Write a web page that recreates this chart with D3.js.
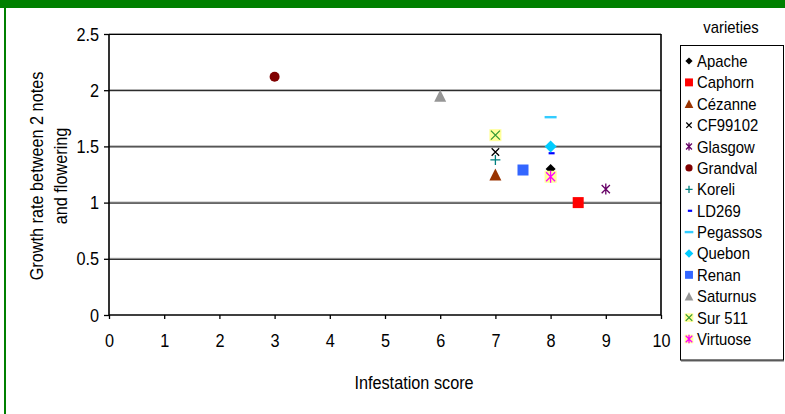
<!DOCTYPE html>
<html>
<head>
<meta charset="utf-8">
<script src="https://cdn.jsdelivr.net/npm/d3@7"></script>
<style>
  html, body { margin: 0; padding: 0; background: #fff; }
  svg { display: block; font-family: "Liberation Sans", Arial, sans-serif; }
</style>
</head>
<body>
<svg id="chart" width="785" height="414"></svg>
<script>
// Varieties, infestation score (x) and growth rate (y)
const varieties = ["Apache", "Caphorn", "Cézanne", "CF99102", "Glasgow", "Grandval", "Koreli",
                   "LD269", "Pegassos", "Quebon", "Renan", "Saturnus", "Sur 511", "Virtuose"];
const infestation = [8, 8.5, 7, 7, 9, 3, 7, 8, 8, 8, 7.5, 6, 7, 8];
const growthRate = [1.30, 1.00, 1.25, 1.45, 1.12, 2.12, 1.38, 1.44, 1.76, 1.50, 1.29, 1.95, 1.60, 1.23];
const xTicks = [0, 1, 2, 3, 4, 5, 6, 7, 8, 9, 10];
const yTicks = [0, 0.5, 1, 1.5, 2, 2.5];

// Marker style for each variety
const markerStyle = {
  "Apache":   { shape: "diamond", fill: "#000000", size: 10 },
  "Caphorn":  { shape: "square",  fill: "#ff0000", size: 11 },
  "Cézanne":  { shape: "triangle", fill: "#993300", size: 12 },
  "CF99102":  { shape: "x",       stroke: "#000000", size: 10 },
  "Glasgow":  { shape: "star",    stroke: "#660066", size: 11 },
  "Grandval": { shape: "circle",  fill: "#800000", size: 10 },
  "Koreli":   { shape: "plus",    stroke: "#008080", size: 10 },
  "LD269":    { shape: "shortdash", fill: "#0000ff", size: 6 },
  "Pegassos": { shape: "dash",    fill: "#33ccff", size: 12 },
  "Quebon":   { shape: "diamond", fill: "#00ccff", size: 12 },
  "Renan":    { shape: "square",  fill: "#3366ff", size: 11 },
  "Saturnus": { shape: "triangle", fill: "#969696", size: 12 },
  "Sur 511":  { shape: "x", stroke: "#339933", bg: "#ffff99", size: 12 },
  "Virtuose": { shape: "star", stroke: "#ff00ff", bg: "#ffff99", size: 12 }
};

// Slightly condensed lettering
const SX = 0.93;

function drawMarker(g, st, scale) {
  const s = st.size * (scale || 1), h = s / 2;
  if (st.bg) {
    g.append("rect").attr("x", -h).attr("y", -h).attr("width", s).attr("height", s).attr("fill", st.bg);
  }
  const q = h * 0.75;
  switch (st.shape) {
    case "diamond":
      g.append("path").attr("d", `M0,${-h}L${h},0L0,${h}L${-h},0Z`).attr("fill", st.fill); break;
    case "square":
      g.append("rect").attr("x", -h).attr("y", -h).attr("width", s).attr("height", s).attr("fill", st.fill); break;
    case "triangle":
      g.append("path").attr("d", `M0,${-h}L${h},${h}L${-h},${h}Z`).attr("fill", st.fill); break;
    case "circle":
      g.append("circle").attr("r", h).attr("fill", st.fill); break;
    case "x":
      g.append("path").attr("d", `M${-q},${-q}L${q},${q}M${-q},${q}L${q},${-q}`)
        .attr("stroke", st.stroke).attr("stroke-width", 1.3).attr("fill", "none"); break;
    case "plus":
      g.append("path").attr("d", `M${-h},0L${h},0M0,${-h}L0,${h}`)
        .attr("stroke", st.stroke).attr("stroke-width", 1.3).attr("fill", "none"); break;
    case "star":
      g.append("path").attr("d", `M${-q},${-q}L${q},${q}M${-q},${q}L${q},${-q}M0,${-h}L0,${h}`)
        .attr("stroke", st.stroke).attr("stroke-width", 1.3).attr("fill", "none"); break;
    case "dash":
      g.append("rect").attr("x", -h).attr("y", -1.2).attr("width", s).attr("height", 2.4).attr("fill", st.fill); break;
    case "shortdash":
      g.append("rect").attr("x", -h + 1).attr("y", -1).attr("width", s).attr("height", 2.2).attr("fill", st.fill); break;
  }
}

// Text placed at (tx, ty) with a horizontal squeeze
function label(parent, tx, ty, str, size, anchor) {
  return parent.append("text")
    .attr("transform", `translate(${tx},${ty}) scale(${SX},1)`)
    .attr("text-anchor", anchor || "start")
    .attr("font-size", size).attr("fill", "#000").text(str);
}

const svg = d3.select("#chart");

// Frame: green band on top and a thin green rule on the left
svg.append("rect").attr("x", 0).attr("y", 0).attr("width", 785).attr("height", 8).attr("fill", "#008000");
svg.append("rect").attr("x", 4).attr("y", 8).attr("width", 2).attr("height", 406).attr("fill", "#008000");

const x = d3.scaleLinear().domain([0, 10]).range([109, 661]);
const y = d3.scaleLinear().domain([0, 2.5]).range([315, 34]);

// Horizontal gridlines
const grid = svg.append("g");
yTicks.filter(v => v > 0).forEach(v => {
  grid.append("line").attr("x1", x(0)).attr("x2", x(10)).attr("y1", y(v) - 0.5).attr("y2", y(v) - 0.5)
    .attr("stroke", "#a0a0a0").attr("stroke-width", 1);
  grid.append("line").attr("x1", x(0)).attr("x2", x(10)).attr("y1", y(v) + 0.5).attr("y2", y(v) + 0.5)
    .attr("stroke", "#000").attr("stroke-width", 1);
});

// Plot border (left, bottom, right)
svg.append("path")
  .attr("d", `M${x(0)},${y(2.5)}L${x(0)},${y(0)}L${x(10)},${y(0)}L${x(10)},${y(2.5)}`)
  .attr("fill", "none").attr("stroke", "#000").attr("stroke-width", 1.6);

// Axes (tick marks from d3, labels condensed)
const yAxis = svg.append("g").attr("transform", `translate(${x(0)},0)`)
  .call(d3.axisLeft(y).tickValues(yTicks).tickSize(5).tickFormat(d3.format("")));
const xAxis = svg.append("g").attr("transform", `translate(0,${y(0)})`)
  .call(d3.axisBottom(x).tickValues(xTicks).tickSize(4).tickFormat(d3.format("")));
[yAxis, xAxis].forEach(a => {
  a.select(".domain").remove();
  a.selectAll(".tick line").attr("stroke", "#000").attr("stroke-width", 1.3);
  a.selectAll(".tick text").remove();
});
yAxis.selectAll(".tick").each(function (d) {
  label(d3.select(this), -10, 6, d3.format("")(d), 17.5, "end");
});
xAxis.selectAll(".tick").each(function (d) {
  label(d3.select(this), 0, 32, d3.format("")(d), 17.5, "middle");
});

// Axis titles
label(svg, 414, 389, "Infestation score", 17.5, "middle");
const yt = svg.append("text").attr("transform", `translate(0,176) rotate(-90) scale(${SX},1)`)
  .attr("text-anchor", "middle").attr("font-size", 17.5);
yt.append("tspan").attr("x", 0).attr("y", 43).text("Growth rate between 2 notes");
yt.append("tspan").attr("x", 0).attr("y", 67).text("and flowering");

// Points
const pts = svg.append("g");
varieties.forEach((name, i) => {
  const g = pts.append("g").attr("transform", `translate(${x(infestation[i])},${y(growthRate[i])})`);
  drawMarker(g, markerStyle[name]);
});

// Legend
label(svg, 731, 33, "varieties", 16, "middle");
svg.append("line").attr("x1", 681).attr("x2", 784).attr("y1", 361).attr("y2", 361)
  .attr("stroke", "#999").attr("stroke-width", 1.5);
svg.append("rect").attr("x", 680.5).attr("y", 45.5).attr("width", 103).attr("height", 314.5)
  .attr("fill", "#fff").attr("stroke", "#000").attr("stroke-width", 1);
const ly = d3.scaleLinear().domain([0, varieties.length - 1]).range([61, 339]);
varieties.forEach((name, i) => {
  const g = svg.append("g").attr("transform", `translate(689,${ly(i)})`);
  drawMarker(g, markerStyle[name], 0.72);
  label(svg, 697, ly(i) + 6, name, 16);
});
</script>
</body>
</html>
